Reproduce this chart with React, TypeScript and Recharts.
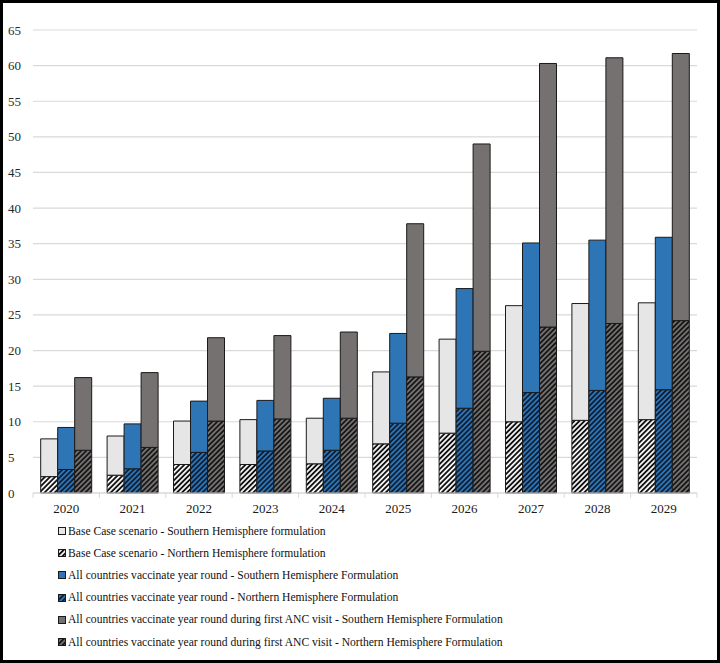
import React from 'react';
import { BarChart, Bar, XAxis, YAxis, CartesianGrid } from 'recharts';

const years = ['2020', '2021', '2022', '2023', '2024', '2025', '2026', '2027', '2028', '2029'];
// Segment heights (Northern = hatched lower part, Southern = solid upper part)
const baseNorth = [2.3, 2.5, 4.0, 4.0, 4.1, 6.9, 8.4, 10.0, 10.2, 10.3];
const baseSouth = [5.3, 5.5, 6.1, 6.3, 6.4, 10.1, 13.2, 16.3, 16.4, 16.4];
const yearRoundNorth = [3.3, 3.4, 5.7, 5.9, 6.0, 9.8, 11.9, 14.1, 14.4, 14.5];
const yearRoundSouth = [5.9, 6.3, 7.2, 7.1, 7.3, 12.6, 16.8, 21.0, 21.1, 21.4];
const ancNorth = [6.0, 6.4, 10.1, 10.4, 10.5, 16.3, 19.9, 23.3, 23.8, 24.2];
const ancSouth = [10.2, 10.5, 11.7, 11.7, 12.1, 21.5, 29.1, 37.0, 37.3, 37.5];
const yTicks = [0, 5, 10, 15, 20, 25, 30, 35, 40, 45, 50, 55, 60, 65];

const legendLabels = [
  'Base Case scenario - Southern Hemisphere formulation',
  'Base Case scenario - Northern Hemisphere formulation',
  'All countries vaccinate year round - Southern Hemisphere Formulation',
  'All countries vaccinate year round - Northern Hemisphere Formulation',
  'All countries vaccinate year round during first ANC visit - Southern Hemisphere Formulation',
  'All countries vaccinate year round during first ANC visit - Northern Hemisphere Formulation',
];

const data = years.map((y, i) => ({
  year: y,
  baseN: baseNorth[i],
  baseS: baseSouth[i],
  yrN: yearRoundNorth[i],
  yrS: yearRoundSouth[i],
  ancN: ancNorth[i],
  ancS: ancSouth[i],
}));

const FONT = '"Liberation Serif", "Times New Roman", serif';
const LIGHT = '#E7E6E6';
const BLUE = '#2E75B6';
const GRAY = '#767171';
const STROKE = '#1a1a1a';

const series = [
  { key: 'baseN', stack: 'a', fill: 'url(#hatchWhite)', label: legendLabels[1] },
  { key: 'baseS', stack: 'a', fill: LIGHT, label: legendLabels[0] },
  { key: 'yrN', stack: 'b', fill: 'url(#hatchBlue)', label: legendLabels[3] },
  { key: 'yrS', stack: 'b', fill: BLUE, label: legendLabels[2] },
  { key: 'ancN', stack: 'c', fill: 'url(#hatchGray)', label: legendLabels[5] },
  { key: 'ancS', stack: 'c', fill: GRAY, label: legendLabels[4] },
];
const legendOrder = ['baseS', 'baseN', 'yrS', 'yrN', 'ancS', 'ancN'];

const CHART_W = 720;
const CHART_H = 663;
const MARGIN = { top: 30, right: 23, left: 8, bottom: 140 };
const Y_AXIS_W = 25;
const PLOT_W = CHART_W - MARGIN.left - MARGIN.right - Y_AXIS_W;
const BAND = PLOT_W / years.length;

const YTick = (props: any) => {
  const { y, payload } = props;
  return (
    <text x={8} y={y} dy={4.5} textAnchor="start" fontFamily={FONT} fontSize={13} fill="#2a2a2a">
      {payload.value}
    </text>
  );
};

const XTick = (props: any) => {
  const { x, y, payload, index } = props;
  const axisY = y - 8;
  return (
    <g>
      <line x1={x - BAND / 2} x2={x - BAND / 2} y1={axisY} y2={axisY + 5} stroke="#d9d9d9" />
      {index === years.length - 1 && (
        <line x1={x + BAND / 2} x2={x + BAND / 2} y1={axisY} y2={axisY + 5} stroke="#d9d9d9" />
      )}
      <text x={x} y={axisY + 20} textAnchor="middle" fontFamily={FONT} fontSize={13} fill="#1a1a1a">
        {payload.value}
      </text>
    </g>
  );
};

const Patterns = () => (
  <defs>
    <pattern id="hatchWhite" patternUnits="userSpaceOnUse" width="3.6" height="3.6" patternTransform="rotate(45)">
      <rect width="3.6" height="3.6" fill="#ffffff" />
      <line x1="1.8" y1="0" x2="1.8" y2="3.6" stroke="#111" strokeWidth="1.9" />
    </pattern>
    <pattern id="hatchBlue" patternUnits="userSpaceOnUse" width="3.6" height="3.6" patternTransform="rotate(45)">
      <rect width="3.6" height="3.6" fill={BLUE} />
      <line x1="1.8" y1="0" x2="1.8" y2="3.6" stroke="#0b1a2e" strokeWidth="1.7" />
    </pattern>
    <pattern id="hatchGray" patternUnits="userSpaceOnUse" width="3.6" height="3.6" patternTransform="rotate(45)">
      <rect width="3.6" height="3.6" fill={GRAY} />
      <line x1="1.8" y1="0" x2="1.8" y2="3.6" stroke="#111" strokeWidth="1.7" />
    </pattern>
  </defs>
);

export default function App() {
  return (
    <div style={{ position: 'absolute', left: 0, top: 0, width: CHART_W, height: CHART_H, background: '#fff' }}>
      <div style={{ position: 'absolute', left: 0, top: 0 }}>
        <BarChart
          width={CHART_W}
          height={CHART_H}
          data={data}
          margin={MARGIN}
          barCategoryGap="11.6%"
          barGap={0}
        >
          <Patterns />
          <CartesianGrid vertical={false} stroke="#d9d9d9" strokeWidth={1.2} />
          <XAxis
            dataKey="year"
            axisLine={{ stroke: '#d9d9d9' }}
            tickLine={false}
            tick={<XTick />}
            interval={0}
            height={30}
          />
          <YAxis
            domain={[0, 65]}
            ticks={yTicks}
            axisLine={false}
            tickLine={false}
            tick={<YTick />}
            width={Y_AXIS_W}
            interval={0}
          />
          {series.map((s) => (
            <Bar
              key={s.key}
              dataKey={s.key}
              stackId={s.stack}
              fill={s.fill}
              stroke={STROKE}
              strokeWidth={1}
              isAnimationActive={false}
            />
          ))}
        </BarChart>
      </div>
      <div
        style={{
          position: 'absolute',
          left: 58,
          top: 520,
          fontFamily: FONT,
          fontSize: 11.6,
          color: '#111',
        }}
      >
        {legendOrder.map((k) => {
          const s = series.find((x) => x.key === k)!;
          return (
            <div key={k} style={{ height: 22.2, display: 'flex', alignItems: 'center', whiteSpace: 'nowrap' }}>
              <svg width={10} height={10} style={{ marginRight: 0 }}>
                <rect x={0.5} y={1.5} width={7} height={7} fill={s.fill} stroke={STROKE} strokeWidth={1} />
              </svg>
              <span>{s.label}</span>
            </div>
          );
        })}
      </div>
      <div
        style={{
          position: 'absolute',
          left: 0,
          top: 0,
          width: CHART_W,
          height: CHART_H,
          boxSizing: 'border-box',
          border: '3px solid #000',
          pointerEvents: 'none',
        }}
      />
    </div>
  );
}
